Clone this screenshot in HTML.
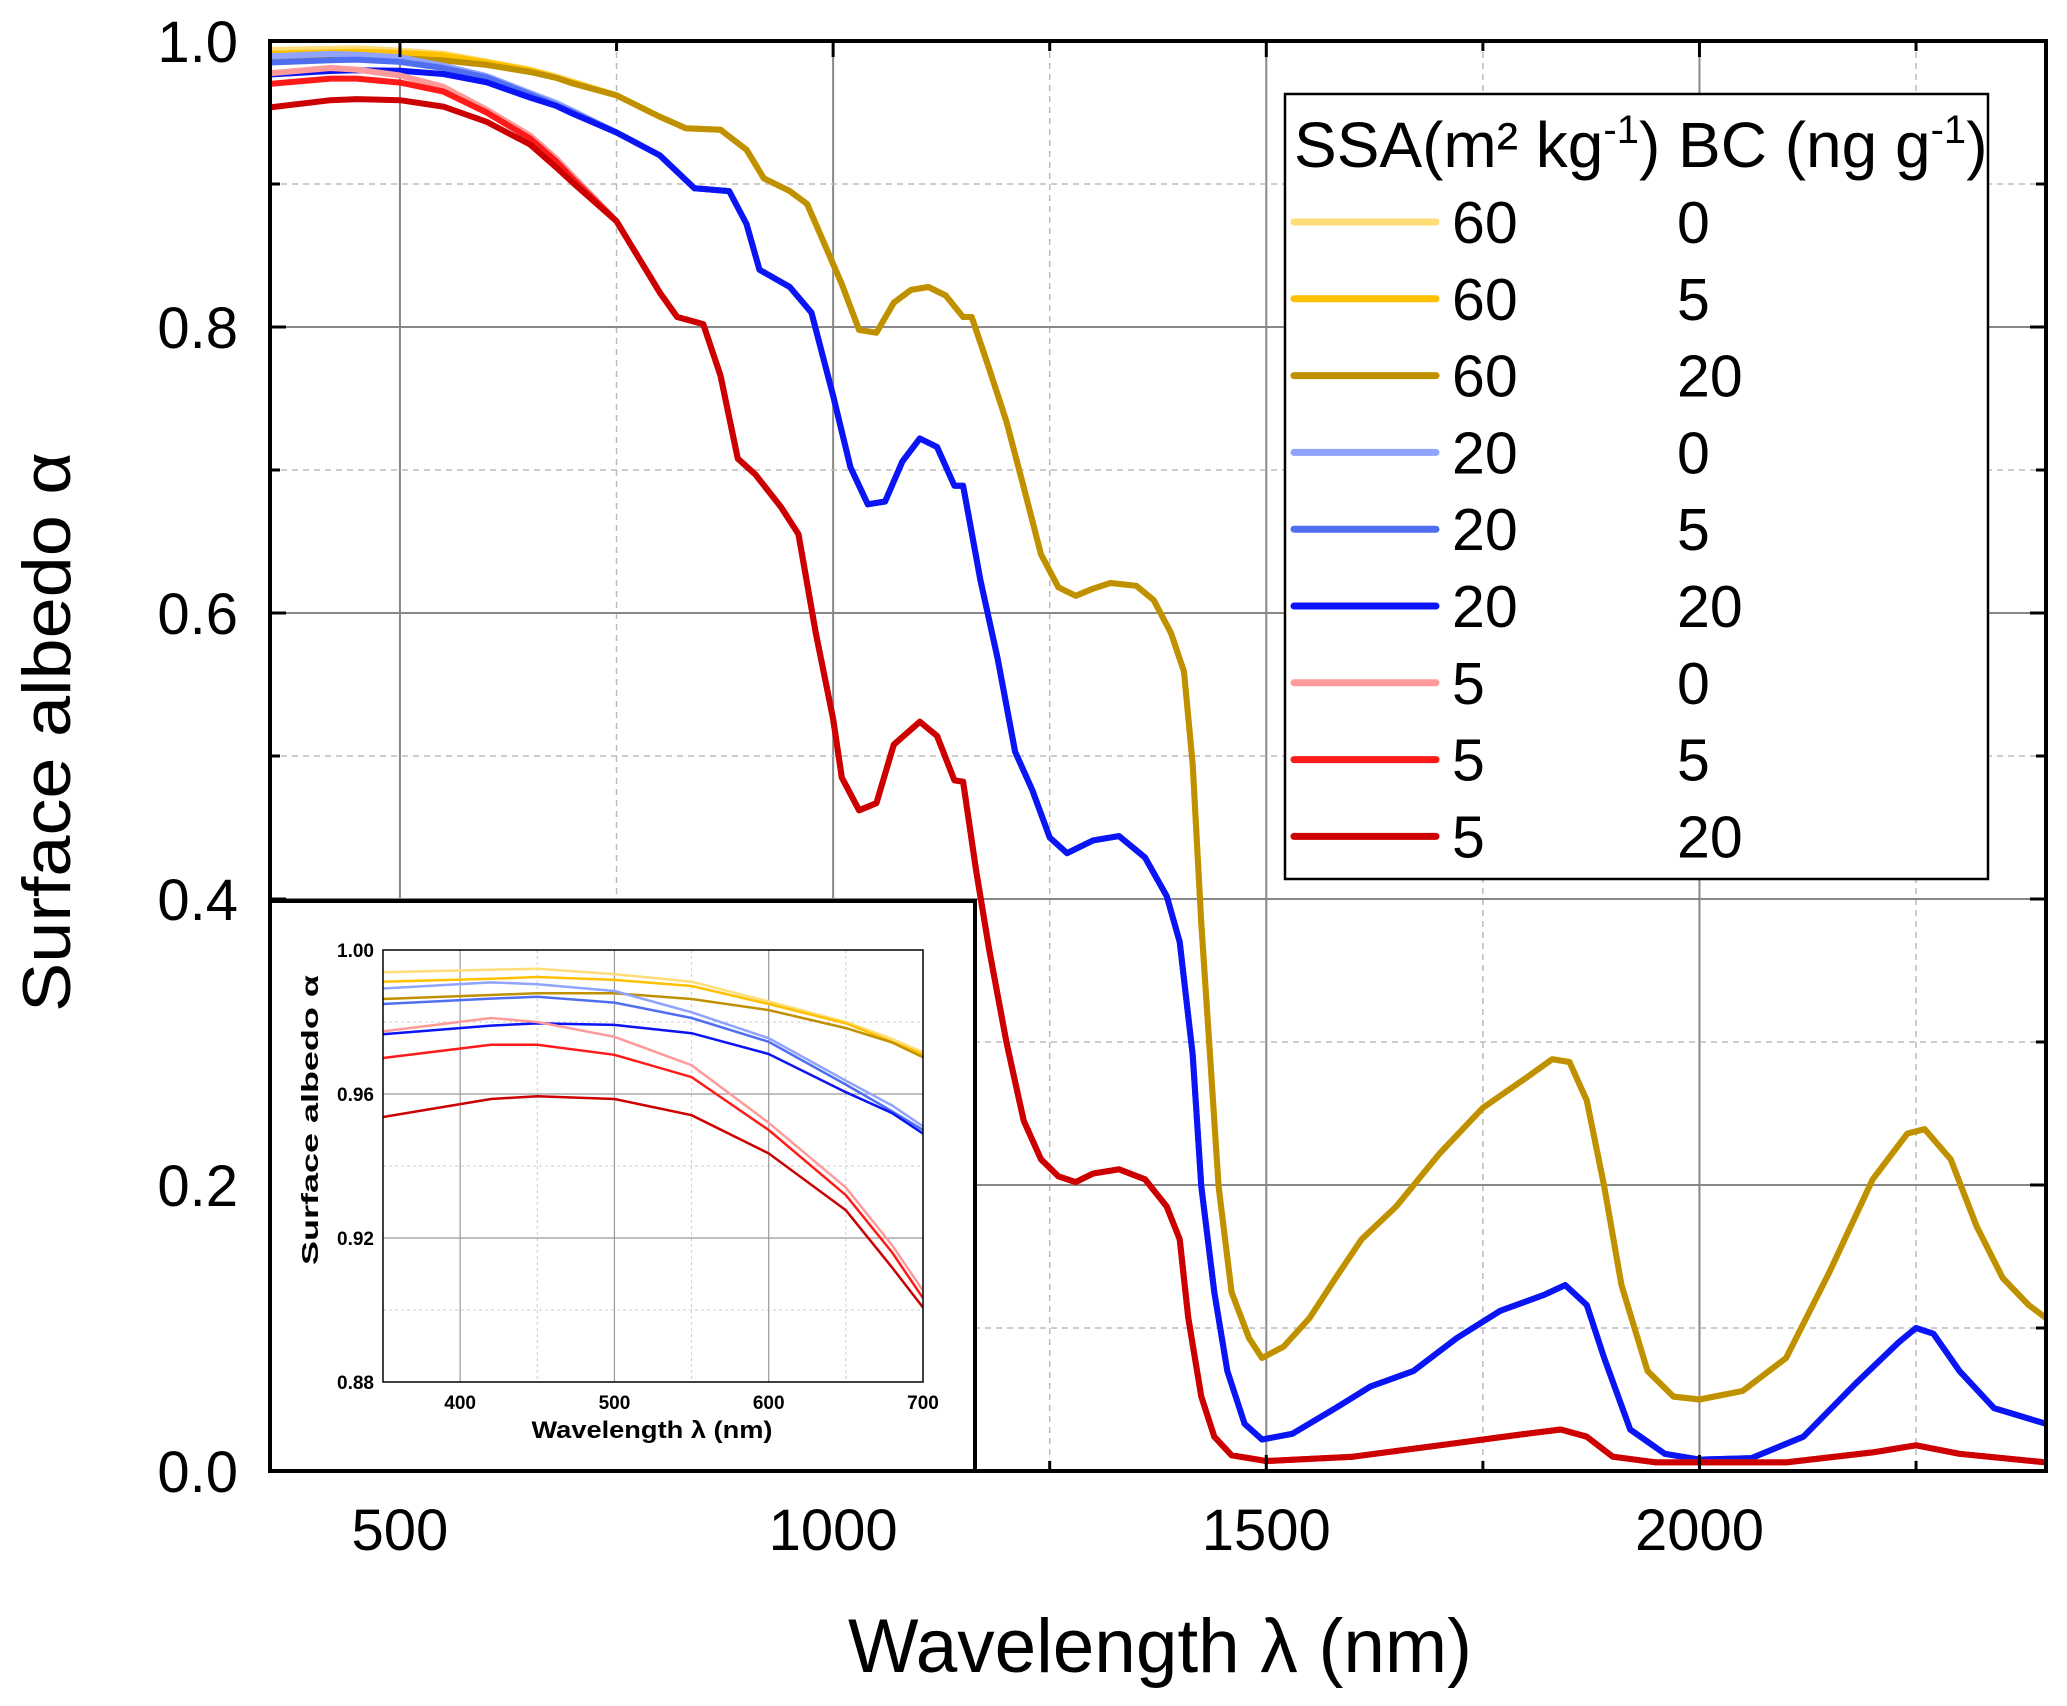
<!DOCTYPE html>
<html><head><meta charset="utf-8"><style>
html,body{margin:0;padding:0;background:#fff;}
svg{display:block;font-family:"Liberation Sans",sans-serif;}
</style></head><body>
<svg id="chart" width="2067" height="1706" viewBox="0 0 2067 1706">
<rect width="2067" height="1706" fill="#fff"/>
<g id="grid"></g>
<g id="series"></g>
<g id="axes"></g>
<g id="inset"></g>
<g id="legend"></g>
<text x="1160" y="1672" font-size="76" text-anchor="middle" textLength="624" lengthAdjust="spacingAndGlyphs">Wavelength λ (nm)</text>
<text transform="translate(70,732) rotate(-90)" font-size="68" text-anchor="middle" textLength="560" lengthAdjust="spacingAndGlyphs">Surface albedo α</text>
</svg>
<script>
// ---- data ----
const seriesNames = ["60/0","60/5","60/20","20/0","20/5","20/20","5/0","5/5","5/20"];
const seriesColors = ["#FFDD77","#FFC000","#BF9000","#8FA3FF","#4F6FF0","#0A14F5","#FF9A9A","#FF1A1A","#CC0000"];
const legendSSA = ["60","60","60","20","20","20","5","5","5"];
const legendBC = ["0","5","20","0","5","20","0","5","20"];
// short-wavelength region
const wlShort = [350,420,450,500,550,600,650,680,700];
const s60_0 = [0.9938,0.9945,0.9948,0.9933,0.9912,0.9857,0.980,0.9753,0.9716];
const s60_5 = [0.9912,0.992,0.9925,0.9917,0.990,0.985,0.9796,0.9745,0.971];
const s60_20 = [0.9864,0.9875,0.988,0.988,0.9864,0.9833,0.9783,0.9743,0.9702];
const s20_0 = [0.9893,0.991,0.9905,0.9886,0.9827,0.9755,0.9637,0.9568,0.951];
const s20_5 = [0.985,0.9865,0.987,0.9854,0.9811,0.9745,0.9626,0.9552,0.950];
const s20_20 = [0.9766,0.979,0.9796,0.9792,0.9769,0.9711,0.9605,0.9547,0.949];
const s5_0 = [0.9774,0.9811,0.980,0.9759,0.968,0.952,0.934,0.918,0.9054];
const s5_5 = [0.970,0.9737,0.9737,0.9709,0.9647,0.950,0.9319,0.916,0.9033];
const s5_20 = [0.9536,0.9586,0.9594,0.9586,0.9541,0.9435,0.9277,0.9118,0.9007];
// long-wavelength tails per SSA
const wl60 = [750,800,830,870,900,920,950,970,990,1010,1030,1050,1070,1090,1110,1130,1150,1160,1180,1200,1220,1240,1260,1280,1300,1320,1350,1370,1390,1405,1415,1425,1435,1445,1460,1480,1495,1520,1550,1580,1610,1650,1700,1750,1800,1830,1850,1870,1890,1910,1940,1970,2000,2050,2100,2150,2200,2240,2260,2290,2320,2350,2380,2400];
const t60 = [0.962,0.947,0.939,0.938,0.924,0.904,0.895,0.886,0.858,0.830,0.798,0.796,0.817,0.826,0.828,0.822,0.807,0.807,0.771,0.734,0.688,0.641,0.618,0.612,0.617,0.621,0.619,0.609,0.586,0.559,0.494,0.383,0.291,0.199,0.125,0.093,0.079,0.087,0.107,0.135,0.162,0.185,0.222,0.254,0.275,0.288,0.286,0.259,0.199,0.130,0.070,0.052,0.050,0.056,0.079,0.139,0.204,0.236,0.239,0.218,0.171,0.135,0.116,0.107];
const wl20 = [750,800,840,880,900,915,950,975,1000,1020,1040,1060,1080,1100,1120,1140,1150,1170,1190,1210,1230,1250,1270,1300,1330,1360,1385,1400,1415,1425,1440,1455,1475,1495,1530,1580,1620,1670,1720,1770,1820,1845,1870,1890,1920,1960,2000,2060,2120,2180,2230,2250,2270,2300,2340,2400];
const t20 = [0.936,0.920,0.897,0.895,0.872,0.840,0.828,0.810,0.752,0.702,0.676,0.678,0.706,0.722,0.716,0.689,0.689,0.623,0.568,0.503,0.476,0.443,0.432,0.441,0.444,0.429,0.402,0.370,0.291,0.199,0.125,0.070,0.033,0.022,0.026,0.044,0.059,0.070,0.093,0.112,0.123,0.130,0.116,0.079,0.029,0.012,0.008,0.009,0.024,0.061,0.090,0.100,0.096,0.070,0.044,0.033];
const wl5 = [750,780,800,820,850,870,890,910,940,960,980,1000,1010,1030,1050,1070,1100,1120,1140,1150,1165,1180,1200,1220,1240,1260,1280,1300,1330,1360,1385,1400,1410,1425,1440,1460,1500,1600,1700,1800,1840,1870,1900,1950,2100,2200,2250,2300,2400];
const t5 = [0.874,0.844,0.824,0.807,0.802,0.766,0.708,0.697,0.674,0.655,0.586,0.526,0.485,0.462,0.467,0.508,0.524,0.514,0.483,0.482,0.420,0.365,0.300,0.245,0.218,0.206,0.202,0.208,0.211,0.204,0.185,0.162,0.107,0.052,0.024,0.011,0.007,0.010,0.018,0.026,0.029,0.024,0.010,0.006,0.006,0.013,0.018,0.012,0.006];
const xTicks = [500,1000,1500,2000];
const yTicks = [0.0,0.2,0.4,0.6,0.8,1.0];
const insetXTicks = [400,500,600,700];
const insetYTicks = [0.88,0.92,0.96,1.00];

const NS="http://www.w3.org/2000/svg";
function mk(tag, attrs, parent){const e=document.createElementNS(NS,tag);for(const k in attrs)e.setAttribute(k,attrs[k]);parent.appendChild(e);return e;}
const L=270,R=2046,T=41,B=1471;
const X0=350,X1=2400;
const sx=v=>L+(v-X0)/(X1-X0)*(R-L);
const sy=v=>B-v*(B-T);
const shorts=[s60_0,s60_5,s60_20,s20_0,s20_5,s20_20,s5_0,s5_5,s5_20];
const tails=[[wl60,t60],[wl60,t60],[wl60,t60],[wl20,t20],[wl20,t20],[wl20,t20],[wl5,t5],[wl5,t5],[wl5,t5]];

// grid
const grid=document.getElementById('grid');
for(let v=750;v<X1;v+=500){const l=mk('line',{x1:sx(v),x2:sx(v),y1:T,y2:B,stroke:'#bbb','stroke-width':1.5,'stroke-dasharray':'6,5'},grid);

}
xTicks.forEach(v=>{const l=mk('line',{x1:sx(v),x2:sx(v),y1:T,y2:B,stroke:'#888','stroke-width':2},grid);

});
for(let i=1;i<10;i+=2){const v=i/10;const l=mk('line',{x1:L,x2:R,y1:sy(v),y2:sy(v),stroke:'#bbb','stroke-width':1.5,'stroke-dasharray':'6,5'},grid);

}
yTicks.slice(1,-1).forEach(v=>{const l=mk('line',{x1:L,x2:R,y1:sy(v),y2:sy(v),stroke:'#888','stroke-width':2},grid);

});

// series
const sg=document.getElementById('series');
seriesNames.forEach((n,i)=>{
  const pts=[];
  wlShort.forEach((w,j)=>pts.push([w,shorts[i][j]]));
  const [tw,tv]=tails[i];
  tw.forEach((w,j)=>pts.push([w,tv[j]]));
  const p=mk('polyline',{points:pts.map(q=>sx(q[0]).toFixed(1)+','+sy(q[1]).toFixed(1)).join(' '),fill:'none',stroke:seriesColors[i],'stroke-width':6,'stroke-linejoin':'round'},sg);
  
  
});

// axes
const ax=document.getElementById('axes');
const fr=mk('rect',{x:L,y:T,width:R-L,height:B-T,fill:'none',stroke:'#000','stroke-width':4},ax);


for(let v=500;v<X1;v+=250){const len=(v%500===0)?16:10;
  mk('line',{x1:sx(v),x2:sx(v),y1:B,y2:B-len,stroke:'#000','stroke-width':3},ax);
  mk('line',{x1:sx(v),x2:sx(v),y1:T,y2:T+len,stroke:'#000','stroke-width':3},ax);}
for(let i=1;i<10;i++){const v=i/10;const len=(i%2===0)?16:10;
  mk('line',{x1:L,x2:L+len,y1:sy(v),y2:sy(v),stroke:'#000','stroke-width':3},ax);
  mk('line',{x1:R,x2:R-len,y1:sy(v),y2:sy(v),stroke:'#000','stroke-width':3},ax);}
xTicks.forEach(v=>{const t=mk('text',{x:sx(v),y:1550,'font-size':58,'text-anchor':'middle'},ax);t.textContent=v;

});
yTicks.forEach(v=>{const t=mk('text',{x:238,y:sy(v)+21,'font-size':58,'text-anchor':'end'},ax);t.textContent=v.toFixed(1);

});

// inset
const ins=document.getElementById('inset');
const bx=mk('rect',{x:270,y:901,width:705,height:570,fill:'#fff',stroke:'#000','stroke-width':4},ins);


const iL=383,iR=923,iT=950,iB=1382,iX0=350,iX1=700,iY0=0.88,iY1=1.0;
const ix=v=>iL+(v-iX0)/(iX1-iX0)*(iR-iL);
const iy=v=>iB-(v-iY0)/(iY1-iY0)*(iB-iT);
[450,550,650].forEach(v=>mk('line',{x1:ix(v),x2:ix(v),y1:iT,y2:iB,stroke:'#ccc','stroke-width':1,'stroke-dasharray':'3,3'},ins));
[0.90,0.94,0.98].forEach(v=>mk('line',{x1:iL,x2:iR,y1:iy(v),y2:iy(v),stroke:'#ccc','stroke-width':1,'stroke-dasharray':'3,3'},ins));
insetXTicks.slice(0,-1).forEach(v=>mk('line',{x1:ix(v),x2:ix(v),y1:iT,y2:iB,stroke:'#999','stroke-width':1.2},ins));
insetYTicks.slice(1,-1).forEach(v=>mk('line',{x1:iL,x2:iR,y1:iy(v),y2:iy(v),stroke:'#999','stroke-width':1.2},ins));
const defs=mk('defs',{},ins);const cp=mk('clipPath',{id:'ic'},defs);mk('rect',{x:iL,y:iT,width:iR-iL,height:iB-iT},cp);
const ig=mk('g',{'clip-path':'url(#ic)'},ins);
seriesNames.forEach((n,i)=>{
  const p=mk('polyline',{points:wlShort.map((w,j)=>ix(w).toFixed(1)+','+iy(shorts[i][j]).toFixed(1)).join(' '),fill:'none',stroke:seriesColors[i],'stroke-width':2.5},ig);
  
  
});
mk('rect',{x:iL,y:iT,width:iR-iL,height:iB-iT,fill:'none',stroke:'#000','stroke-width':1.5},ins);
insetXTicks.forEach(v=>{const t=mk('text',{x:ix(v),y:1409,'font-size':19,'font-weight':'bold','text-anchor':'middle'},ins);t.textContent=v;

});
insetYTicks.forEach(v=>{const t=mk('text',{x:374,y:iy(v)+7,'font-size':19,'font-weight':'bold','text-anchor':'end'},ins);t.textContent=v.toFixed(2);

});
const ixt=mk('text',{x:652,y:1438,'font-size':24,'font-weight':'bold','text-anchor':'middle',textLength:241,lengthAdjust:'spacingAndGlyphs'},ins);ixt.textContent='Wavelength λ (nm)';


const iyt=mk('text',{transform:'translate(318,1120) rotate(-90)','font-size':23,'font-weight':'bold','text-anchor':'middle',textLength:290,lengthAdjust:'spacingAndGlyphs'},ins);iyt.textContent='Surface albedo α';



// legend
const lg=document.getElementById('legend');
const lb=mk('rect',{x:1285,y:94,width:703,height:785,fill:'#fff',stroke:'#000','stroke-width':2.5},lg);


const hd=mk('text',{x:1294,y:167,'font-size':64},lg);
hd.innerHTML='SSA(m² kg<tspan dy="-24" font-size="40">-1</tspan><tspan dy="24">) BC (ng g</tspan><tspan dy="-24" font-size="40">-1</tspan><tspan dy="24">)</tspan>';


seriesNames.forEach((n,i)=>{
  const y=222+i*76.8;
  const ln=mk('line',{x1:1294,x2:1436,y1:y,y2:y,stroke:seriesColors[i],'stroke-width':7,'stroke-linecap':'round'},lg);
  
  
  const a=mk('text',{x:1452,y:y+21,'font-size':59},lg);a.textContent=legendSSA[i];
  
  
  const b=mk('text',{x:1677,y:y+21,'font-size':59},lg);b.textContent=legendBC[i];
  
  
});
</script>
</body></html>
